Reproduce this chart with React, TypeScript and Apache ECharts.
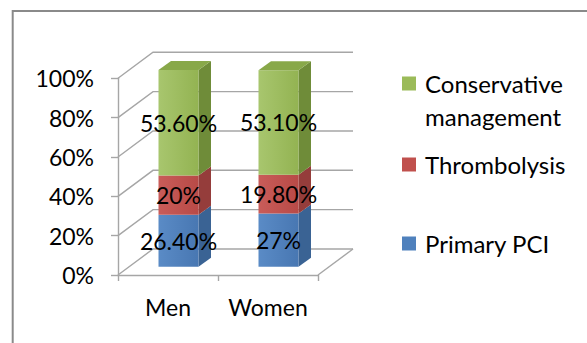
import React, { useEffect, useRef } from 'react';
import * as echarts from 'echarts';

const categories = ['Men', 'Women'];
const primaryPCI = [26.4, 27];
const thrombolysis = [20, 19.8];
const conservative = [53.6, 53.1];
const primaryPCILabels = ['26.40%', '27%'];
const thrombolysisLabels = ['20%', '19.80%'];
const conservativeLabels = ['53.60%', '53.10%'];
const yTicks = [0, 20, 40, 60, 80, 100];
const seriesNames = ['Primary PCI', 'Thrombolysis', 'Conservative management'];

const FONT = 'Lato';
const FS = 23;
const LEGEND_FS = 24;
const DEPTH_X = 35;
const DEPTH_Y = -26;
const BAR_SHIFT_X = 10.5;
const BAR_SHIFT_Y = -8.3;
const BAR_W_RATIO = 0.4;
const BAR_DX = 12.5;
const BAR_DY = -9;
const GRID_COLOR = '#A6A6A6';

const palettes = [
  { front: ['#5A8BC6', '#4877B2'], side: '#3A6394', top: '#4672AA', legend: '#4F81BD' },
  { front: ['#C95C59', '#B84A47'], side: '#953D3B', top: '#A94542', legend: '#C0504D' },
  { front: ['#A8C66E', '#93B352'], side: '#6F8C39', top: '#88A849', legend: '#9BBB59' },
];

function makeBarRender(si: number, labels: string[], isTop: boolean) {
  return (params: any, api: any) => {
    const idx = api.value(0);
    const base = api.value(1);
    const top = api.value(2);
    const pb = api.coord([idx, base]);
    const pt = api.coord([idx, top]);
    const bw = api.size([1, 0])[0];
    const w = bw * BAR_W_RATIO;
    const x0 = pb[0] + BAR_SHIFT_X - w / 2;
    const x1 = x0 + w;
    const yb = pb[1] + BAR_SHIFT_Y;
    const yt = pt[1] + BAR_SHIFT_Y;
    const pal = palettes[si];
    const children: any[] = [
      {
        type: 'polygon',
        shape: { points: [[x1, yb], [x1, yt], [x1 + BAR_DX, yt + BAR_DY], [x1 + BAR_DX, yb + BAR_DY]] },
        style: { fill: pal.side },
      },
      {
        type: 'rect',
        shape: { x: x0, y: yt, width: w, height: yb - yt },
        style: {
          fill: new echarts.graphic.LinearGradient(0, 0, 1, 0, [
            { offset: 0, color: pal.front[0] },
            { offset: 1, color: pal.front[1] },
          ]),
        },
      },
    ];
    if (isTop) {
      children.push({
        type: 'polygon',
        shape: { points: [[x0, yt], [x1, yt], [x1 + BAR_DX, yt + BAR_DY], [x0 + BAR_DX, yt + BAR_DY]] },
        style: { fill: pal.top },
      });
    }
    children.push({
      type: 'text',
      z2: 10,
      style: {
        text: labels[params.dataIndex],
        x: (x0 + x1) / 2,
        y: (yt + yb) / 2,
        align: 'center',
        verticalAlign: 'middle',
        fontSize: FS,
        fontFamily: FONT,
        fill: '#000',
      },
    });
    return { type: 'group', children };
  };
}

const wallRender = (params: any, api: any) => {
  const v = api.value(1);
  const cs = params.coordSys;
  const y = api.coord([0, v])[1];
  const xl = cs.x;
  const xr = cs.x + cs.width;
  const children: any[] = [
    {
      type: 'polyline',
      shape: { points: [[xl, y], [xl + DEPTH_X, y + DEPTH_Y], [xr + DEPTH_X, y + DEPTH_Y]] },
      style: { stroke: GRID_COLOR, lineWidth: 1.4, fill: 'none' },
    },
  ];
  if (v === 0) {
    children.push({
      type: 'line',
      shape: { x1: xr, y1: y, x2: xr + DEPTH_X, y2: y + DEPTH_Y },
      style: { stroke: GRID_COLOR, lineWidth: 1.4 },
    });
  }
  return { type: 'group', children };
};

export default function App() {
  const ref = useRef<HTMLDivElement>(null);
  useEffect(() => {
    if (!ref.current) return;
    const chart = echarts.init(ref.current, undefined, { renderer: 'svg' });
    const pciBase = primaryPCI.map(() => 0);
    const thrBase = primaryPCI.slice();
    const conBase = primaryPCI.map((v, i) => v + thrombolysis[i]);
    const stacks = [
      { base: pciBase, vals: primaryPCI, labels: primaryPCILabels },
      { base: thrBase, vals: thrombolysis, labels: thrombolysisLabels },
      { base: conBase, vals: conservative, labels: conservativeLabels },
    ];
    const legendText = {
      fontSize: LEGEND_FS,
      fontFamily: FONT,
      color: '#000',
      lineHeight: 33,
      padding: [0, 0, 0, 4],
    };
    const legendCommon = {
      orient: 'vertical',
      left: 402,
      padding: 0,
      itemWidth: 14,
      itemHeight: 14,
      icon: 'rect',
      selectedMode: false,
      textStyle: legendText,
    };
    const option: any = {
      animation: false,
      backgroundColor: '#fff',
      textStyle: { fontFamily: FONT },
      grid: { left: 118, top: 78.3, width: 200, height: 196.7, containLabel: false },
      xAxis: {
        type: 'category',
        data: categories,
        boundaryGap: true,
        axisLine: { show: true, lineStyle: { color: GRID_COLOR, width: 1.4 } },
        axisTick: { show: true, length: 6, lineStyle: { color: GRID_COLOR, width: 1.4 } },
        axisLabel: { color: '#000', fontSize: FS, fontFamily: FONT, margin: 20, interval: 0, hideOverlap: false },
        splitLine: { show: false },
      },
      yAxis: {
        type: 'value',
        min: 0,
        max: 100,
        interval: 20,
        axisLine: { show: true, lineStyle: { color: GRID_COLOR, width: 1.4 } },
        axisTick: { show: true, length: 7, lineStyle: { color: GRID_COLOR, width: 1.4 } },
        axisLabel: { color: '#000', fontSize: FS, fontFamily: FONT, margin: 24, formatter: '{value}%' },
        splitLine: { show: false },
      },
      legend: [
        {
          ...legendCommon,
          top: 34,
          data: ['Conservative management'],
          formatter: () => ' \nConservative\nmanagement',
        },
        {
          ...legendCommon,
          top: 148,
          data: ['Thrombolysis'],
        },
        {
          ...legendCommon,
          top: 227,
          data: ['Primary PCI'],
        },
      ],
      graphic: [
        {
          type: 'rect',
          shape: { x: 12.7, y: 11, width: 700, height: 500 },
          style: { fill: 'none', stroke: '#8A8A8A', lineWidth: 2 },
          silent: true,
        },
      ],
      series: [
        {
          type: 'custom',
          name: 'wall',
          silent: true,
          z: 1,
          data: yTicks.map((v) => [0, v]),
          encode: { x: 0, y: 1 },
          renderItem: wallRender,
        },
        ...stacks.map((s, si) => ({
          type: 'custom',
          name: seriesNames[si],
          z: 2 + si,
          itemStyle: { color: palettes[si].legend },
          data: categories.map((_, i) => [i, s.base[i], s.base[i] + s.vals[i]]),
          encode: { x: 0, y: [1, 2] },
          renderItem: makeBarRender(si, s.labels, si === stacks.length - 1),
        })),
      ],
    };
    chart.setOption(option);
    return () => chart.dispose();
  }, []);
  return (
    <div
      ref={ref}
      style={{ position: 'absolute', left: 0, top: 0, width: 587, height: 343, background: '#fff' }}
    />
  );
}
